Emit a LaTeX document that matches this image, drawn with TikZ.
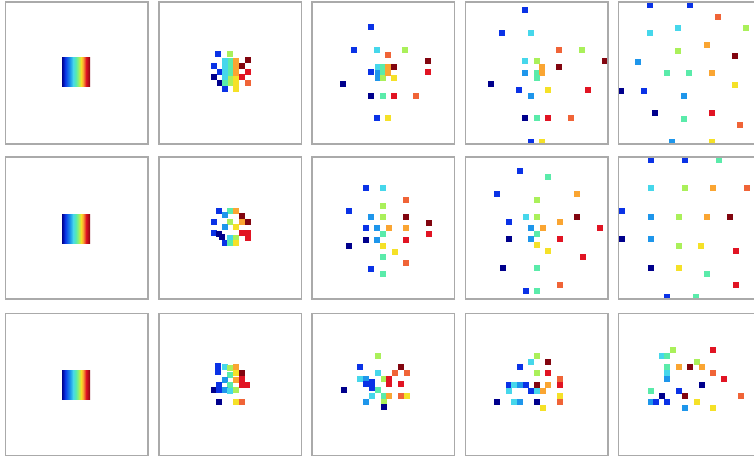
\documentclass[tikz,border=0pt]{standalone}
\definecolor{c1}{RGB}{0,0,140}
\definecolor{c2}{RGB}{10,50,230}
\definecolor{c3}{RGB}{30,150,235}
\definecolor{c4}{RGB}{70,215,235}
\definecolor{c5}{RGB}{90,235,170}
\definecolor{c6}{RGB}{170,240,90}
\definecolor{c7}{RGB}{245,225,40}
\definecolor{c8}{RGB}{250,165,50}
\definecolor{c9}{RGB}{240,100,55}
\definecolor{c10}{RGB}{225,20,35}
\definecolor{c11}{RGB}{130,5,15}
\definecolor{framegray}{RGB}{170,170,170}
\newcommand\sq[3]{\fill[#3] (#1-3,#2-3) rectangle ++(6,6);}
\newcommand\frm[2]{\draw[panelframe] (#1,#2) rectangle ++(142.5,142);}
\newcommand\band[2]{%
  \foreach \a/\b/\ca/\cb in {0/3/c1/c2,3/8/c2/c3,8/11/c3/c4,11/14/c4/c5,14/17/c5/c6,17/19/c6/c7,19/21/c7/c8,21/24/c8/c10,24/28/c10/c11}{
    \shade[left color=\ca,right color=\cb] (#1+\a,#2) rectangle (#1+\b+0.2,#2+29);
  }}
\tikzset{panelframe/.style={draw=framegray,line width=1.1pt}}
\begin{document}
\begin{tikzpicture}[x=1pt,y=-1pt]
\fill[white] (0,0) rectangle (754,458);
\useasboundingbox (0,0) rectangle (754,458);
\clip (0,0) rectangle (754,458);
% column 1
\band{62}{57}
\band{62}{214}
\band{62}{370}
% panel 1,2
\sq{218.3}{54}{c2}\sq{230.3}{54}{c6}\sq{213.7}{66}{c2}\sq{219.7}{71.7}{c2}
\sq{213.7}{77.3}{c1}\sq{219.7}{83.3}{c1}\sq{225}{89}{c2}\sq{236}{89}{c7}
\sq{247.7}{60.3}{c11}\sq{241.7}{66}{c11}\sq{247.7}{71.7}{c10}\sq{241.7}{77.3}{c10}\sq{247.7}{82.7}{c9}
\sq{225}{61}{c4}\sq{225}{67}{c4}\sq{225}{73}{c4}\sq{225}{79}{c4}\sq{225}{83}{c5}
\sq{230.5}{61}{c5}\sq{230.5}{67}{c5}\sq{230.5}{73}{c5}\sq{230.5}{79}{c6}\sq{230.5}{83}{c6}
\sq{236}{61}{c8}\sq{236}{67}{c8}\sq{236}{73}{c8}\sq{236}{79}{c7}\sq{236}{83}{c7}
% panel 1,3
\sq{371.3}{27.3}{c2}\sq{354}{50}{c2}\sq{377}{50}{c4}\sq{388}{55}{c9}\sq{405.3}{50}{c6}
\sq{428}{61}{c11}\sq{428}{72.3}{c10}\sq{394}{66.7}{c11}\sq{371.3}{72.3}{c2}\sq{342.7}{84}{c1}
\sq{394}{78.3}{c7}\sq{371.3}{95.7}{c1}\sq{382.7}{95.7}{c5}\sq{394}{95.7}{c10}\sq{416.3}{95.7}{c9}
\sq{377}{118}{c2}\sq{388}{118}{c7}
\sq{378}{67}{c4}\sq{378}{73}{c3}\sq{378}{78}{c3}\sq{383}{67}{c5}\sq{383}{73}{c5}\sq{383}{78}{c6}\sq{388}{67}{c8}\sq{388}{73}{c8}
% panel 1,4
\sq{525}{10}{c2}\sq{502.3}{32.7}{c2}\sq{530.7}{32.7}{c4}\sq{559.3}{50}{c9}\sq{582.3}{50}{c6}
\sq{605}{61.3}{c11}\sq{525}{61.3}{c4}\sq{536.7}{61.3}{c6}\sq{542.3}{66.7}{c8}\sq{559.3}{67.3}{c11}
\sq{525}{72.7}{c3}\sq{536.7}{72.7}{c5}\sq{542.3}{72.7}{c8}\sq{536.7}{78.3}{c5}\sq{491}{84}{c1}
\sq{519.3}{90}{c2}\sq{547.7}{90}{c7}\sq{587.7}{90}{c10}\sq{530.7}{96}{c3}\sq{525}{118.3}{c1}
\sq{536.7}{118.3}{c5}\sq{547.7}{118.3}{c10}\sq{571}{118.3}{c9}\sq{530.7}{141.7}{c2}\sq{542.3}{141.7}{c7}
% panel 1,5
\sq{649.7}{5}{c2}\sq{689.7}{5}{c2}\sq{718}{16.7}{c9}\sq{649.7}{33.3}{c4}\sq{678}{28}{c4}
\sq{746}{28}{c6}\sq{707}{44.7}{c8}\sq{678}{50.7}{c6}\sq{734.7}{56}{c11}\sq{638}{62}{c3}
\sq{666.7}{73.3}{c5}\sq{689.3}{73.3}{c5}\sq{712}{73.3}{c8}\sq{734.7}{84.7}{c7}\sq{621.3}{90.7}{c1}
\sq{644}{90.7}{c2}\sq{683.7}{96}{c3}\sq{655.3}{113.3}{c1}\sq{712}{113.3}{c10}\sq{683.7}{118.7}{c5}
\sq{740.3}{124.7}{c9}\sq{672}{141.7}{c3}\sq{712}{141.7}{c7}
% panel 2,2
\sq{219}{210.7}{c2}\sq{230.3}{210.7}{c5}\sq{235.7}{210.7}{c8}\sq{225}{215.3}{c3}\sq{241.7}{216}{c11}
\sq{213.7}{221.7}{c2}\sq{230.3}{221.7}{c6}\sq{241.7}{221.7}{c8}\sq{247.7}{221.7}{c11}\sq{225}{227.3}{c3}
\sq{235.7}{227.3}{c7}\sq{213.7}{232.7}{c2}\sq{219}{234}{c1}\sq{221.7}{237.3}{c1}\sq{241.7}{232.7}{c10}
\sq{247.7}{232.7}{c10}\sq{247.7}{238.3}{c10}\sq{225}{243.3}{c2}\sq{230.3}{238.3}{c4}\sq{230.3}{243.3}{c5}
\sq{235.7}{238.3}{c6}\sq{235.7}{243.3}{c7}
% panel 2,3
\sq{365.7}{188.3}{c2}\sq{383}{188.3}{c4}\sq{406.3}{200}{c9}\sq{383}{205.7}{c6}\sq{348.7}{211.3}{c2}
\sq{371.3}{216.7}{c3}\sq{383}{216.7}{c6}\sq{406.3}{216.7}{c11}\sq{428.7}{222.7}{c11}\sq{428.7}{234}{c10}
\sq{365.7}{228.3}{c2}\sq{377.3}{228.3}{c3}\sq{388.7}{228.3}{c8}\sq{406.3}{228.3}{c8}\sq{383}{234}{c5}
\sq{365.7}{240}{c1}\sq{377.3}{240}{c3}\sq{406.3}{240}{c10}\sq{348.7}{245.7}{c1}\sq{383}{245.7}{c7}
\sq{394.7}{251.7}{c7}\sq{383}{257.3}{c5}\sq{406.3}{263.3}{c9}\sq{371.3}{268.7}{c2}\sq{383}{274.3}{c5}
% panel 2,4
\sq{520}{171}{c2}\sq{548.3}{176.7}{c5}\sq{497.3}{194}{c2}\sq{576.7}{194}{c8}\sq{537.3}{200}{c6}
\sq{525.7}{216.7}{c4}\sq{537.3}{216.7}{c6}\sq{576.7}{216.7}{c11}\sq{508.7}{222.3}{c2}\sq{560}{222.3}{c8}
\sq{531.3}{228.3}{c3}\sq{542.7}{228.3}{c8}\sq{600}{228.3}{c10}\sq{537.3}{234}{c5}\sq{508.7}{239.3}{c1}
\sq{531.3}{239.3}{c3}\sq{560}{239.3}{c10}\sq{537.3}{245.3}{c7}\sq{548.3}{251}{c7}\sq{582.7}{256.7}{c10}
\sq{502.7}{268}{c1}\sq{537.3}{268}{c5}\sq{560}{285}{c9}\sq{525.7}{290.7}{c2}\sq{537.3}{290.7}{c5}
% panel 2,5
\sq{650.7}{160}{c2}\sq{684.7}{160}{c2}\sq{718.7}{160}{c5}\sq{650.7}{188.3}{c4}\sq{684.7}{188.3}{c6}
\sq{713}{188.3}{c8}\sq{747}{188.3}{c9}\sq{622}{211}{c2}\sq{650.7}{216.7}{c3}\sq{678.7}{216.7}{c6}
\sq{707.3}{216.7}{c8}\sq{729.7}{216.7}{c11}\sq{622}{239.3}{c1}\sq{650.7}{239.3}{c3}\sq{678.7}{245.7}{c6}
\sq{701.3}{245.7}{c7}\sq{736}{251}{c10}\sq{650.7}{268}{c1}\sq{678.7}{268}{c7}\sq{707.3}{274}{c5}
\sq{736}{285}{c10}\sq{667.3}{296.7}{c2}\sq{696}{296.7}{c5}
% panel 3,2
\sq{218.3}{366}{c2}\sq{218.3}{371.7}{c2}\sq{225}{366.7}{c4}\sq{230.3}{368.3}{c6}\sq{235.7}{366.7}{c8}
\sq{235.7}{373.3}{c7}\sq{241.7}{373.3}{c11}\sq{241.7}{379}{c10}\sq{241.7}{385}{c10}\sq{247.3}{385}{c10}
\sq{230.3}{375}{c5}\sq{235.7}{380}{c8}\sq{225}{380}{c3}\sq{230.3}{385}{c5}\sq{219.3}{385}{c2}
\sq{213.7}{390}{c1}\sq{219.3}{390}{c2}\sq{225}{390}{c3}\sq{230.3}{391}{c4}\sq{235.7}{390}{c6}
\sq{219}{401.7}{c1}\sq{235.7}{402.3}{c7}\sq{241.7}{401.7}{c9}
% panel 3,3
\sq{378}{355.7}{c6}\sq{360.3}{367.3}{c2}\sq{400.7}{367.3}{c11}\sq{394.7}{373}{c9}\sq{406.7}{373}{c9}
\sq{378}{373}{c4}\sq{360.3}{379}{c4}\sq{366.3}{379}{c3}\sq{372.3}{381.7}{c2}\sq{366.3}{384.3}{c2}
\sq{372.3}{387.7}{c2}\sq{383.7}{379}{c6}\sq{389}{379}{c10}\sq{389}{384.3}{c10}\sq{400.7}{384.3}{c10}
\sq{343.7}{390.3}{c1}\sq{378}{390.3}{c5}\sq{372.3}{395.7}{c4}\sq{383.7}{395.7}{c5}\sq{389}{395.7}{c8}
\sq{400.7}{395.7}{c9}\sq{406.7}{395.7}{c7}\sq{366.3}{401.7}{c3}\sq{383.7}{401.7}{c6}\sq{383.7}{407.3}{c1}
% panel 3,4
\sq{537.3}{355.7}{c6}\sq{531}{361.7}{c4}\sq{548.3}{361.7}{c11}\sq{520}{367.3}{c2}\sq{537.3}{373.3}{c6}
\sq{548.3}{373.3}{c10}\sq{560}{379}{c9}\sq{508.7}{385}{c2}\sq{514.3}{385}{c4}\sq{520}{385}{c3}
\sq{525.7}{385}{c2}\sq{537.3}{385}{c11}\sq{548.3}{385}{c8}\sq{560}{385}{c10}\sq{508.7}{390.7}{c4}
\sq{531.3}{390.7}{c2}\sq{537.3}{390.7}{c4}\sq{542.7}{390.7}{c8}\sq{560}{395.7}{c7}\sq{497.3}{401.7}{c1}
\sq{514.3}{401.7}{c4}\sq{520}{401.7}{c3}\sq{537.3}{401.7}{c1}\sq{560}{401.7}{c9}\sq{542.7}{407.7}{c7}
% panel 3,5
\sq{673.3}{350}{c6}\sq{661.7}{355.7}{c4}\sq{667.3}{355.7}{c5}\sq{713.3}{350}{c10}\sq{696.7}{361.7}{c6}
\sq{667.3}{367.3}{c5}\sq{679}{367.3}{c8}\sq{690}{367.3}{c11}\sq{701.7}{367.3}{c8}\sq{667.3}{373.3}{c4}
\sq{713.3}{373.3}{c9}\sq{667.3}{379}{c3}\sq{724.3}{379}{c10}\sq{701.7}{385}{c1}\sq{650.7}{390.7}{c5}
\sq{679}{390.7}{c2}\sq{661.7}{395.7}{c1}\sq{685}{395.7}{c11}\sq{741}{395.7}{c9}\sq{650.7}{401.7}{c3}
\sq{656}{401.7}{c2}\sq{667.3}{401.7}{c2}\sq{696.7}{401.7}{c7}\sq{685}{407.7}{c3}\sq{713.3}{407.7}{c7}
% frames
\foreach \yy in {2,157,313.5}{
  \foreach \xx in {5.5,159,312,465.5,618.5}{
    \frm{\xx}{\yy}
  }
}
\end{tikzpicture}
\end{document}
